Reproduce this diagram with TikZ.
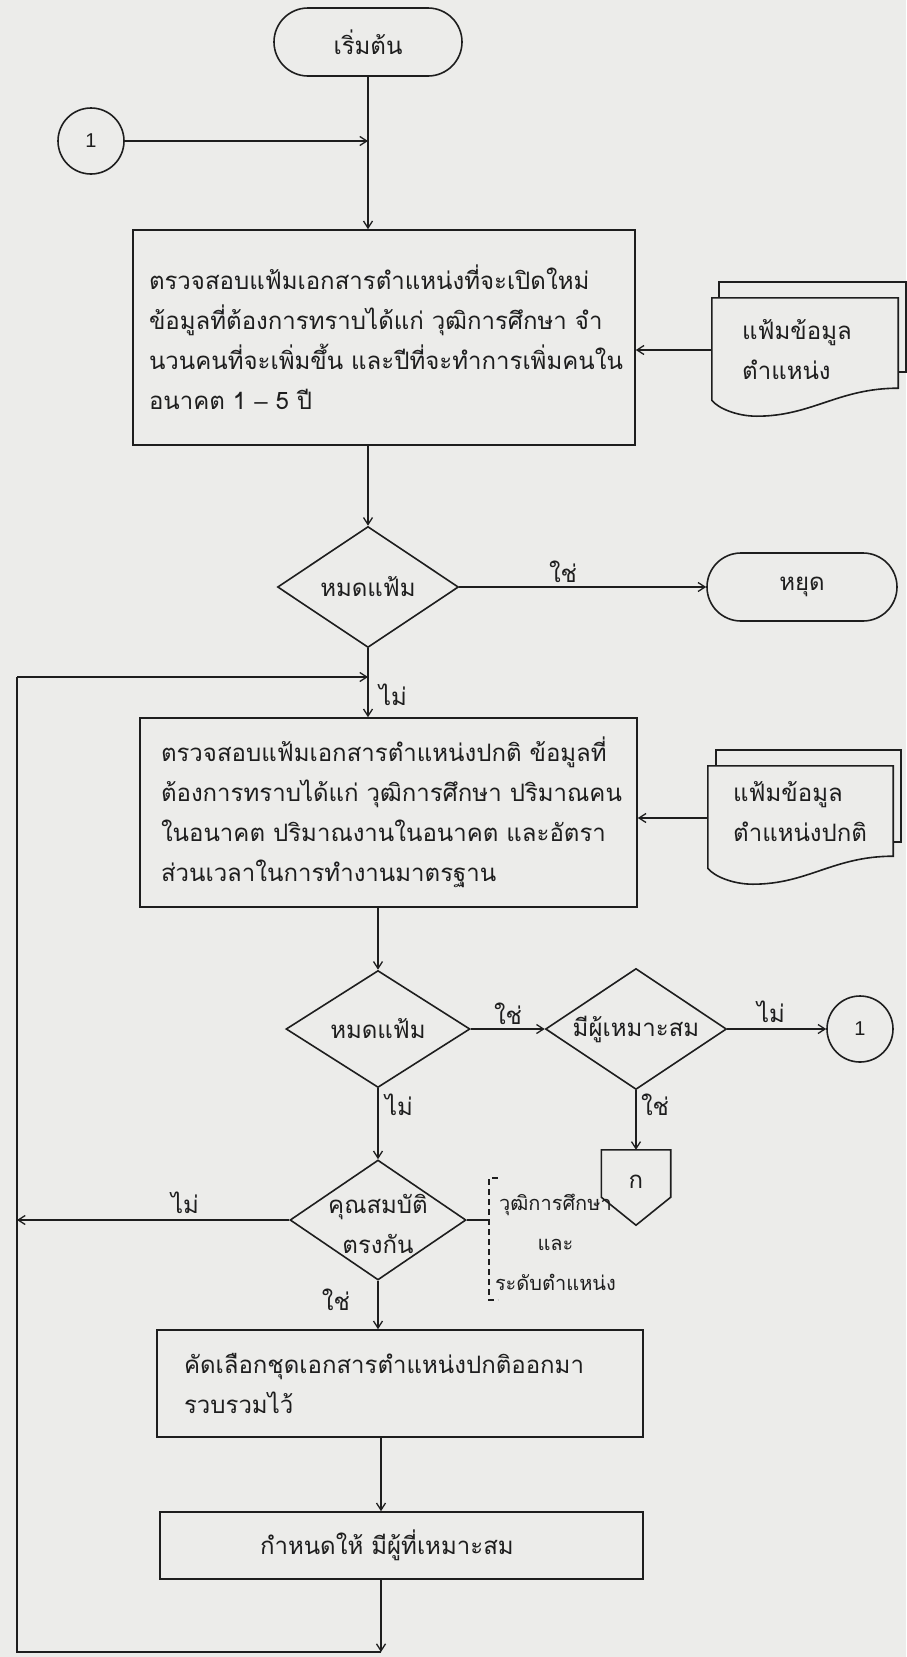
\documentclass[tikz,border=0pt]{standalone}
\usepackage{fontspec}
\setmainfont{Liberation Sans}
\newfontfamily\thaifont[Script=Thai]{Loma}
\usetikzlibrary{shapes.geometric,shapes.misc,arrows.meta,calc}
\definecolor{ink}{RGB}{30,30,30}
\definecolor{paper}{RGB}{236,236,234}
\begin{document}
\begin{tikzpicture}[x=1pt,y=-1pt,
  line/.style={draw=ink, line width=1.6pt},
  arr/.style={line, -{Straight Barb[length=7pt,width=9pt,line width=1.3pt]}},
  th/.style={font=\thaifont\fontsize{24pt}{40pt}\selectfont, text=ink},
  thsmall/.style={font=\thaifont\fontsize{20pt}{40pt}\selectfont, text=ink},
  proc/.style={th, rectangle, draw=ink, line width=1.6pt, inner ysep=0pt},
  dec/.style={diamond, draw=ink, line width=1.6pt, inner sep=0pt},
  term/.style={th, rounded rectangle, draw=ink, line width=1.6pt, inner sep=0pt},
  conn/.style={circle, draw=ink, line width=1.6pt, inner sep=0pt, minimum size=66pt, font=\fontsize{20pt}{24pt}\selectfont, text=ink},
  lab/.style={th, inner sep=0pt},
  ghost/.style={rectangle, draw=none, inner sep=0pt}
]
\fill[paper] (0,0) rectangle (906,1657);
\useasboundingbox (0,0) rectangle (906,1657);

% nodes
\node[term, minimum width=188pt, minimum height=68pt] (start) at (368,42) {เริ่มต้น};
\node[conn] (c1) at (91,141) {1};
\node[proc, inner xsep=16pt, minimum width=502pt, minimum height=215pt, text width=470pt, align=left] (B1) at (384,337.5)
  {ตรวจสอบแฟ้มเอกสารตำแหน่งที่จะเปิดใหม่\\ข้อมูลที่ต้องการทราบได้แก่~วุฒิการศึกษา~จำ\\นวนคนที่จะเพิ่มขึ้น~และปีที่จะทำการเพิ่มคนใน\\อนาคต~1~{\rmfamily –}~5~ปี};

\node[ghost, minimum width=186pt, minimum height=104pt] (d1) at (805,350) {};
\node[th, anchor=west, align=left, inner sep=0pt] (d1t) at (742,350) {แฟ้มข้อมูล\\ตำแหน่ง};

\node[dec, minimum width=181pt, minimum height=121pt] (D1) at (368,587) {};
\node[th, inner sep=0pt] (D1t) at (D1) {หมดแฟ้ม};
\node[term, minimum width=190pt, minimum height=68pt] (stop) at (802,587) {หยุด};

\node[proc, inner xsep=21pt, minimum width=497pt, minimum height=189pt, text width=455pt, align=left] (B2) at (388.5,812.5)
  {ตรวจสอบแฟ้มเอกสารตำแหน่งปกติ~ข้อมูลที่\\ต้องการทราบได้แก่~วุฒิการศึกษา~ปริมาณคน\\ในอนาคต~ปริมาณงานในอนาคต~และอัตรา\\ส่วนเวลาในการทำงานมาตรฐาน};

\node[ghost, minimum width=185pt, minimum height=104pt] (d2) at (800.5,818) {};
\node[th, anchor=west, align=left, inner sep=0pt] (d2t) at (733,812) {แฟ้มข้อมูล\\ตำแหน่งปกติ};

\node[dec, minimum width=184pt, minimum height=117pt] (D2) at (378,1029) {};
\node[th, inner sep=0pt] (D2t) at (D2) {หมดแฟ้ม};
\node[dec, minimum width=181pt, minimum height=121pt] (M) at (636,1029) {};
\node[th, inner sep=0pt] (Mt) at (M) {มีผู้เหมาะสม};
\node[conn] (c2) at (860,1029) {1};

\node[ghost, minimum width=69pt, minimum height=47pt] (ko) at (636,1173.5) {};
\node[th, inner sep=0pt] (kot) at (636,1182) {ก};

\node[dec, minimum width=176pt, minimum height=120pt] (D3) at (378,1220) {};
\node[th, inner sep=0pt, align=center] (D3t) at (378,1224) {คุณสมบัติ\\ตรงกัน};

\node[proc, inner xsep=27pt, minimum width=486pt, minimum height=107pt, text width=432pt, align=left] (B3) at (400,1383.5)
  {คัดเลือกชุดเอกสารตำแหน่งปกติออกมา\\รวบรวมไว้};
\node[proc, inner xsep=100pt, minimum width=483pt, minimum height=67pt, text width=283pt, align=left] (B4) at (401.5,1545.5)
  {กำหนดให้~มีผู้ที่เหมาะสม};

% coordinates of the loop
\coordinate (lt) at (17,677);
\coordinate (lb) at (17,1652);
\coordinate (mx) at (381,0);

% documents
\draw[line] ($(d1.south west)+(0,-2)$) -- (d1.north west) -- (d1.north east) -- ($(d1.south east)+(0,-14)$)
  .. controls ($(d1.south east)+(-60,-14)$) and ($(d1.south west)+(100,14)$) .. ($(d1.south west)+(45,14)$)
  .. controls ($(d1.south west)+(25,14)$) and ($(d1.south west)+(6,6)$) .. ($(d1.south west)+(0,-2)$) -- cycle;
\draw[line] ($(d1.north west)+(7,0)$) -- ($(d1.north west)+(7,-16)$) -- ($(d1.north east)+(8,-16)$) -- ($(d1.south east)+(8,-30)$) -- ($(d1.south east)+(0,-30)$);
\draw[line] ($(d2.south west)+(0,-2)$) -- (d2.north west) -- (d2.north east) -- ($(d2.south east)+(0,-14)$)
  .. controls ($(d2.south east)+(-60,-14)$) and ($(d2.south west)+(100,14)$) .. ($(d2.south west)+(45,14)$)
  .. controls ($(d2.south west)+(25,14)$) and ($(d2.south west)+(6,6)$) .. ($(d2.south west)+(0,-2)$) -- cycle;
\draw[line] ($(d2.north west)+(8,0)$) -- ($(d2.north west)+(8,-16)$) -- ($(d2.north east)+(8,-16)$) -- ($(d2.south east)+(8,-28)$) -- ($(d2.south east)+(0,-28)$);

% off-page connector
\draw[line] (ko.north west) -- (ko.north east) -- (ko.south east) -- ($(ko.south)+(0,28)$) -- (ko.south west) -- cycle;

% connectors
\draw[arr] (start.south) -- (start.south |- B1.north);
\draw[arr] (c1.east) -- (c1.east -| start.south);
\draw[arr] (D1.north |- B1.south) -- (D1.north);
\draw[arr] (d1.west) -- (d1.west -| B1.east);
\draw[arr] (D1.east) -- (D1.east -| stop.west);
\draw[arr] (D1.south) -- (D1.south |- B2.north);
\draw[arr] (d2.west) -- (d2.west -| B2.east);
\draw[arr] (D2.north |- B2.south) -- (D2.north);
\draw[arr] (D2.east) -- (M.west);
\draw[arr] (M.east) -- (c2.west);
\draw[arr] (M.south) -- (M.south |- ko.north);
\draw[arr] (D2.south) -- (D3.north);
\draw[arr] (D3.west) -- (D3.west -| lt);
\draw[arr] (D3.south) -- (D3.south |- B3.north);
\draw[arr] (mx |- B3.south) -- (mx |- B4.north);
\draw[arr] (mx |- B4.south) -- (mx |- lb);
\draw[line] (mx |- lb) -- (lb) -- (lt);
\draw[arr] (lt) -- (lt -| D1.south);

% annotation bracket
\draw[line] (D3.east) -- ++(22,0) coordinate (an);
\draw[line, dash pattern=on 6pt off 4pt] ($(an)+(9,-42)$) -- ($(an)+(0,-42)$) -- ($(an)+(0,80)$) -- ($(an)+(9,80)$);
\node[thsmall, inner sep=0pt, align=center, anchor=west] (ann) at ($(an)+(6,22)$) {วุฒิการศึกษา\\และ\\ระดับตำแหน่ง};

% labels
\node[lab] (y1) at (563,572) {ใช่};
\node[lab] (n1) at (393,695) {ไม่};
\node[lab] (y2) at (508,1014) {ใช่};
\node[lab] (n2) at (771,1012) {ไม่};
\node[lab] (n3) at (399,1105) {ไม่};
\node[lab] (y3) at (655,1105) {ใช่};
\node[lab] (n4) at (185,1203) {ไม่};
\node[lab] (y4) at (336,1300) {ใช่};
\end{tikzpicture}
\end{document}
